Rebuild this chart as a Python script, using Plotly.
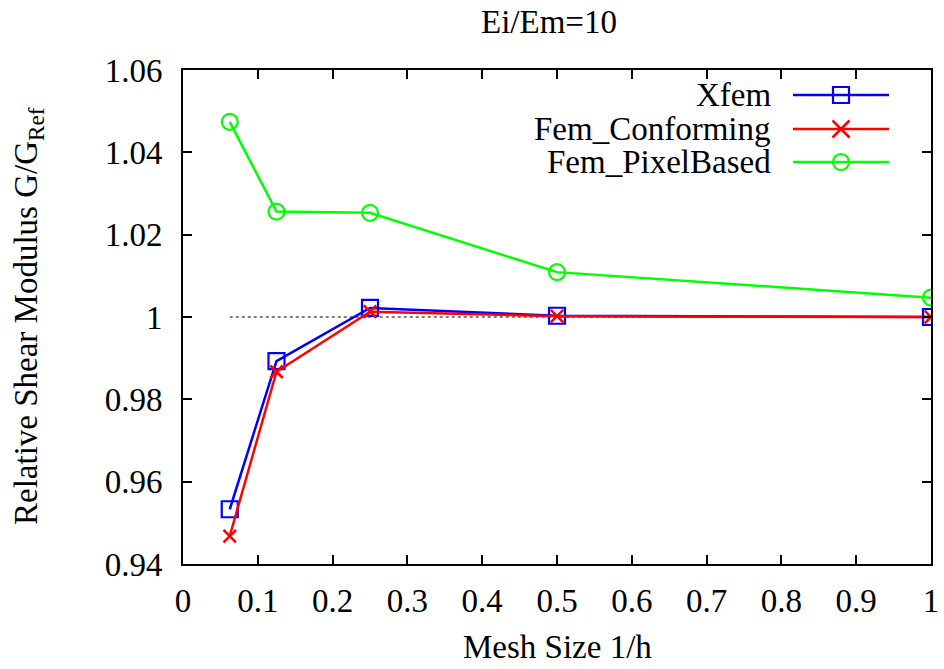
import plotly.graph_objects as go

mesh_size = [0.0625, 0.125, 0.25, 0.5, 1.0]
xfem = [0.9533, 0.9893, 1.0022, 1.0003, 1.0000]
fem_conforming = [0.9468, 0.9867, 1.0013, 1.0002, 1.0000]
fem_pixelbased = [1.0474, 1.0256, 1.0253, 1.0109, 1.0047]
reference_value = 1.0

series_names = ["Xfem", "Fem_Conforming", "Fem_PixelBased"]
series_colors = ["#0000ff", "#ff0000", "#00ff00"]

x_tickvals = [0, 0.1, 0.2, 0.3, 0.4, 0.5, 0.6, 0.7, 0.8, 0.9, 1.0]
x_ticktext = ["0", "0.1", "0.2", "0.3", "0.4", "0.5", "0.6", "0.7", "0.8", "0.9", "1"]
y_tickvals = [0.94, 0.96, 0.98, 1.0, 1.02, 1.04, 1.06]
y_ticktext = ["0.94", "0.96", "0.98", "1", "1.02", "1.04", "1.06"]

FONT = "Liberation Serif, Times New Roman, serif"
FS = 33
W, H = 944, 669
ML, MR, MT, MB = 183, 13, 70, 105
PW, PH = W - ML - MR, H - MT - MB

fig = go.Figure()

# reference dotted line at y = 1
fig.add_trace(go.Scatter(
    x=[mesh_size[0], mesh_size[-1]], y=[reference_value, reference_value],
    mode="lines", line=dict(color="black", width=1, dash="dot"),
    showlegend=False, hoverinfo="skip"))

fig.add_trace(go.Scatter(
    x=mesh_size, y=xfem, mode="lines+markers", name=series_names[0],
    line=dict(color=series_colors[0], width=2.5),
    marker=dict(symbol="square-open", size=16, color=series_colors[0],
                line=dict(width=2.2, color=series_colors[0]))))
fig.add_trace(go.Scatter(
    x=mesh_size, y=fem_conforming, mode="lines+markers", name=series_names[1],
    line=dict(color=series_colors[1], width=2.5),
    marker=dict(symbol="x-thin-open", size=12.5, color=series_colors[1],
                line=dict(width=2.5, color=series_colors[1]))))
fig.add_trace(go.Scatter(
    x=mesh_size, y=fem_pixelbased, mode="lines+markers", name=series_names[2],
    line=dict(color=series_colors[2], width=2.5),
    marker=dict(symbol="circle-open", size=16, color=series_colors[2],
                line=dict(width=2.2, color=series_colors[2]))))

def px2paper_x(px):
    return (px - ML) / PW

def px2paper_y(py):
    return (H - MB - py) / PH

shapes = []
annotations = []

# custom gnuplot-style legend (text on left, sample on right)
legend_rows_y = [95, 129, 162]
line_x0, line_x1, mark_x, text_right = 793, 889, 841, 773
for i, name in enumerate(series_names):
    c = series_colors[i]
    yp = px2paper_y(legend_rows_y[i])
    shapes.append(dict(type="line", xref="paper", yref="paper",
                       x0=px2paper_x(line_x0), x1=px2paper_x(line_x1), y0=yp, y1=yp,
                       line=dict(color=c, width=2.5)))
    xa = px2paper_x(mark_x)
    if i == 0:
        shapes.append(dict(type="rect", xref="paper", yref="paper",
                           xsizemode="pixel", ysizemode="pixel", xanchor=xa, yanchor=yp,
                           x0=-8, x1=8, y0=-8, y1=8, line=dict(color=c, width=2.2)))
    elif i == 1:
        for sgn in (1, -1):
            shapes.append(dict(type="line", xref="paper", yref="paper",
                               xsizemode="pixel", ysizemode="pixel", xanchor=xa, yanchor=yp,
                               x0=-8.5, x1=8.5, y0=-8.5 * sgn, y1=8.5 * sgn,
                               line=dict(color=c, width=2.5)))
    else:
        shapes.append(dict(type="circle", xref="paper", yref="paper",
                           xsizemode="pixel", ysizemode="pixel", xanchor=xa, yanchor=yp,
                           x0=-8, x1=8, y0=-8, y1=8, line=dict(color=c, width=2.2)))
    annotations.append(dict(xref="paper", yref="paper", x=px2paper_x(text_right), y=yp,
                            xanchor="right", yanchor="middle", showarrow=False,
                            text=name, font=dict(family=FONT, size=FS, color="black")))

# title
annotations.append(dict(xref="paper", yref="paper", x=px2paper_x(549), y=px2paper_y(22),
                        xanchor="center", yanchor="middle", showarrow=False,
                        text="Ei/Em=10", font=dict(family=FONT, size=FS, color="black")))
# x-axis title
annotations.append(dict(xref="paper", yref="paper", x=px2paper_x(557), y=px2paper_y(647),
                        xanchor="center", yanchor="middle", showarrow=False,
                        text="Mesh Size 1/h", font=dict(family=FONT, size=FS, color="black")))
# y-axis title
annotations.append(dict(xref="paper", yref="paper", x=px2paper_x(28), y=px2paper_y(316),
                        xanchor="center", yanchor="middle", showarrow=False, textangle=-90,
                        text="Relative Shear Modulus G/G<sub>Ref</sub>",
                        font=dict(family=FONT, size=FS, color="black")))

axis_common = dict(showgrid=False, zeroline=False, showline=True, linecolor="black",
                   linewidth=2, mirror="allticks", ticks="inside", ticklen=9,
                   tickwidth=1.5, tickcolor="black", automargin=False,
                   tickfont=dict(family=FONT, size=FS, color="black"))

fig.update_layout(
    width=W, height=H,
    margin=dict(l=ML, r=MR, t=MT, b=MB, autoexpand=False),
    plot_bgcolor="white", paper_bgcolor="white",
    showlegend=False,
    xaxis=dict(range=[0, 1], tickvals=x_tickvals, ticktext=x_ticktext,
               ticklabelstandoff=6, **axis_common),
    yaxis=dict(range=[0.94, 1.06], tickvals=y_tickvals, ticktext=y_ticktext,
               ticklabelstandoff=12, **axis_common),
    shapes=shapes, annotations=annotations,
)

fig.write_html("out.html", config={"displayModeBar": False},
               post_script="document.body.style.margin='0px';document.body.style.overflow='hidden';")
